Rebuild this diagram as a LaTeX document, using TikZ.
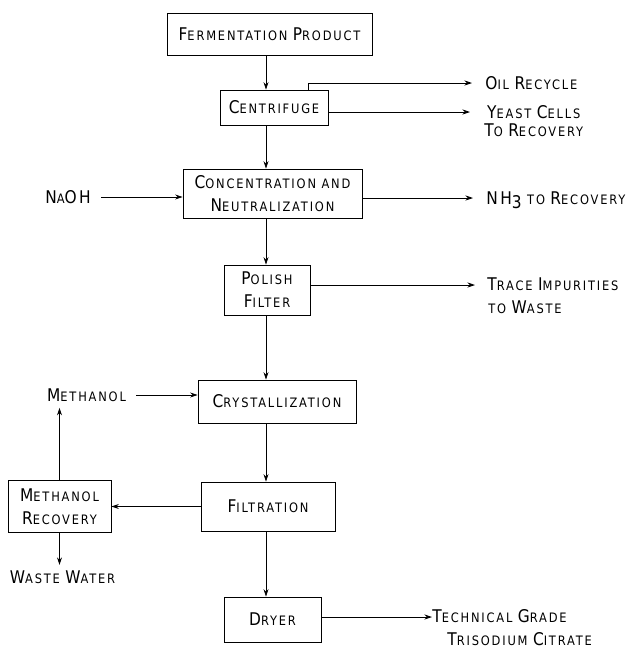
\documentclass[tikz,border=0pt]{standalone}
\usepackage{fontspec}
\setmainfont{DejaVu Sans}[FakeStretch=0.88,LetterSpace=14]
\usetikzlibrary{positioning, arrows.meta}

\newcommand{\Ini}[1]{{\fontsize{17.5}{17.5}\selectfont #1}}

\begin{document}
\begin{tikzpicture}[x=1pt, y=-1pt, on grid, >={Stealth[length=7.5pt,width=5pt]},
    font=\fontsize{13}{23}\selectfont, line width=0.8pt,
    box/.style={draw, inner sep=0pt, align=center},
    txt/.style={inner sep=0pt, align=left}]

    \useasboundingbox (0,0) rectangle (642,651);

    \node[box, minimum width=205pt, minimum height=42pt] (b_ferm) at (269.5,34) {\Ini{F}ERMENTATION \Ini{P}RODUCT};
    \node[box, minimum width=108pt, minimum height=35pt] (b_cent) [below right=73.5pt and 4.5pt of b_ferm] {\Ini{C}ENTRIFUGE};
    \node[box, minimum width=179pt, minimum height=49pt] (b_conc) [below left=86pt and 1.5pt of b_cent] {\Ini{C}ONCENTRATION AND\\\Ini{N}EUTRALIZATION};
    \node[box, minimum width=86pt, minimum height=50pt] (b_pol) [below left=96.5pt and 5.5pt of b_conc] {\Ini{P}OLISH\\\Ini{F}ILTER};
    \node[box, minimum width=158pt, minimum height=43pt] (b_cry) [below right=111.5pt and 10pt of b_pol] {\Ini{C}RYSTALLIZATION};
    \node[box, minimum width=134pt, minimum height=49pt] (b_fil) [below left=105pt and 9pt of b_cry] {\Ini{F}ILTRATION};
    \node[box, minimum width=103pt, minimum height=52pt] (b_mrec) [left=208.5pt of b_fil] {\Ini{M}ETHANOL\\\Ini{R}ECOVERY};
    \node[box, minimum width=97pt, minimum height=45pt] (b_dry) [below right=113pt and 4.5pt of b_fil] {\Ini{D}RYER};

    % free ends of the side streams
    \coordinate (c_col) at (266,0);
    \coordinate (c_oil) at (472,83);
    \coordinate (c_yeast) at (470,112);
    \coordinate (c_nh) at (473,198);
    \coordinate (c_trace) at (475,285);
    \coordinate (c_tech) at (432,617);

    \node[txt] (t_naoh) at (68,197) {\Ini{N}A\Ini{OH}};
    \node[txt] (t_meth) at (86.5,395) {\Ini{M}ETHANOL};
    \node[txt, anchor=base] (t_waste) at (62.5,583) {\Ini{W}ASTE \Ini{W}ATER};
    \node[txt] (t_oil) [right=13pt of c_oil, anchor=base west, yshift=-6pt] {\Ini{O}IL \Ini{R}ECYCLE};
    \node[txt, align=center] (t_yeast) [right=14pt of c_yeast, anchor=base west, yshift=-24pt] {\Ini{Y}EAST \Ini{C}ELLS\\[-5pt]\Ini{T}O \Ini{R}ECOVERY};
    \node[txt] (t_nh) [right=13pt of c_nh, anchor=base west, yshift=-6pt] {\Ini{NH}\raisebox{-4pt}{\Ini{3}} TO \Ini{R}ECOVERY};
    \node[txt] (t_trace) [right=12pt of c_trace, anchor=base west, yshift=-28pt] {\Ini{T}RACE \Ini{I}MPURITIES\\\hspace*{1pt}TO \Ini{W}ASTE};
    \node[txt] (t_tech) [right=0pt of c_tech, anchor=base west, yshift=-28pt] {\Ini{T}ECHNICAL \Ini{G}RADE\\\hspace*{15pt}\Ini{T}RISODIUM \Ini{C}ITRATE};

    \path[->]
    (b_ferm.south -| c_col) edge (b_cent.north -| c_col)
    (b_cent.south -| c_col) edge (b_conc.north -| c_col)
    (b_conc.south -| c_col) edge (b_pol.north -| c_col)
    (b_pol.south -| c_col) edge (b_cry.north -| c_col)
    (b_cry.south -| c_col) edge (b_fil.north -| c_col)
    (b_fil.south -| c_col) edge (b_dry.north -| c_col)
    (b_cent.east |- c_yeast) edge (c_yeast)
    (b_conc.east |- c_nh) edge (c_nh)
    (b_pol.east |- c_trace) edge (c_trace)
    (b_dry.east |- c_tech) edge (c_tech)
    (t_naoh.east) edge [shorten <=10pt] (b_conc.west |- t_naoh.east)
    (t_meth.east) edge [shorten <=10pt] (b_cry.west |- t_meth.east)
    (b_fil.west) edge (b_mrec.east |- b_fil.west)
    (b_mrec.north) edge [shorten >=6pt] (b_mrec.north |- t_meth.south)
    (b_mrec.south) edge [shorten >=5pt] (b_mrec.south |- t_waste.north);

    \draw[->] ([xshift=34pt]b_cent.north) |- (c_oil);

\end{tikzpicture}
\end{document}
